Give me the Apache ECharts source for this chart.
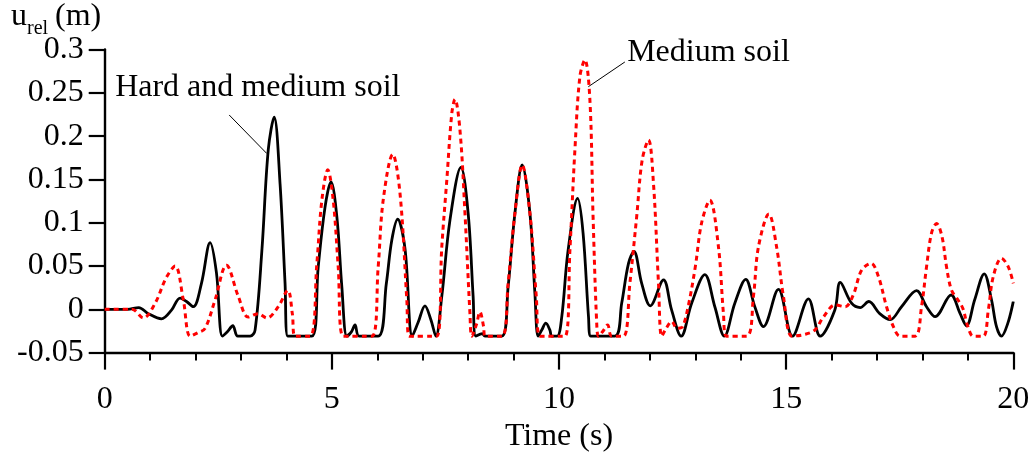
<!DOCTYPE html>
<html><head><meta charset="utf-8">
<script src="https://cdn.jsdelivr.net/npm/echarts@6/dist/echarts.min.js"></script>
<style>html,body{margin:0;padding:0;background:#fff}#c{width:1034px;height:455px}</style>
</head><body><div id="c"></div>
<script>
// Time (s) vs relative displacement u_rel (m)
const hardAndMediumSoil = [
 [0,0],[0.5,0],[0.75,0.002],[0.96,-0.005],[1.25,-0.011],[1.47,-0.001],[1.66,0.013],[1.8,0.009],[1.95,0.003],
 [2.13,0.030],[2.32,0.077],[2.46,0.042],[2.59,-0.031],[2.7,-0.026],[2.82,-0.019],[2.93,-0.031],[3.2,-0.031],
 [3.31,-0.024],[3.46,0.068],[3.6,0.184],[3.73,0.222],[3.86,0.145],[3.97,0.030],[4.03,-0.031],[4.56,-0.031],
 [4.70,0.049],[4.85,0.118],[4.98,0.147],[5.11,0.107],[5.22,0.026],[5.33,-0.031],[5.43,-0.026],[5.51,-0.018],
 [5.6,-0.031],[6.02,-0.031],[6.2,0.030],[6.32,0.080],[6.45,0.104],[6.61,0.070],[6.77,-0.031],[6.9,-0.015],
 [7.05,0.004],[7.18,-0.012],[7.29,-0.031],[7.42,0.015],[7.6,0.103],[7.84,0.164],[8.0,0.111],[8.11,0.015],
 [8.17,-0.031],[8.31,-0.028],[8.37,-0.031],[8.74,-0.031],[8.88,0.026],[9.03,0.111],[9.19,0.1666],[9.36,0.111],
 [9.47,0.018],[9.54,-0.031],[9.62,-0.024],[9.71,-0.016],[9.8,-0.024],[9.84,-0.031],[9.96,-0.031],[10.06,-0.009],
 [10.2,0.068],[10.41,0.128],[10.53,0.088],[10.65,-0.009],[10.70,-0.031],[11.23,-0.031],[11.38,0.007],[11.53,0.053],
 [11.65,0.067],[11.82,0.030],[12.01,0.004],[12.3,0.034],[12.48,-0.001],[12.69,-0.031],[12.92,0.007],[13.21,0.040],
 [13.43,0.003],[13.64,-0.031],[13.87,0.007],[14.11,0.0346],[14.31,0.003],[14.5,-0.020],[14.83,0.023],[15.14,-0.031],
 [15.49,0.012],[15.75,-0.031],[16.07,-0.001],[16.19,0.031],[16.44,0.007],[16.63,0.002],[16.82,0.009],[17.06,-0.005],
 [17.29,-0.012],[17.54,0.003],[17.87,0.0215],[18.09,0.003],[18.28,-0.0085],[18.63,0.0165],[18.83,-0.005],[18.97,-0.019],
 [19.15,0.011],[19.36,0.041],[19.52,0.011],[19.63,-0.020],[19.74,-0.031],[19.88,-0.016],[20.0,0.009]
];
const mediumSoil = [
 [0,0],[0.6,0],[0.85,-0.010],[1.11,0.007],[1.35,0.036],[1.55,0.050],[1.73,0.011],[1.88,-0.031],[2.05,-0.027],
 [2.21,-0.022],[2.43,0.011],[2.68,0.051],[2.94,0.015],[3.16,-0.009],[3.38,-0.005],[3.57,-0.010],[3.82,0.003],
 [4.03,0.022],[4.13,-0.005],[4.19,-0.031],[4.52,-0.031],[4.67,0.053],[4.78,0.126],[4.91,0.161],[5.03,0.126],
 [5.14,0.049],[5.25,-0.031],[5.88,-0.031],[6.02,0.049],[6.13,0.126],[6.34,0.179],[6.5,0.134],[6.65,0.011],
 [6.70,-0.031],[7.31,-0.031],[7.42,0.072],[7.53,0.149],[7.64,0.226],[7.71,0.2425],[7.82,0.207],[7.93,0.111],
 [8.04,-0.005],[8.08,-0.031],[8.18,-0.018],[8.26,-0.003],[8.34,-0.020],[8.37,-0.031],[8.74,-0.031],[8.88,0.030],
 [9.03,0.111],[9.19,0.1666],[9.36,0.111],[9.5,0.015],[9.58,-0.031],[10.13,-0.031],[10.24,0.068],[10.35,0.184],
 [10.46,0.269],[10.57,0.288],[10.68,0.242],[10.75,0.107],[10.83,-0.016],[10.87,-0.031],[10.97,-0.025],[11.07,-0.018],
 [11.16,-0.031],[11.42,-0.031],[11.56,0.030],[11.71,0.107],[11.83,0.172],[11.97,0.1955],[12.08,0.145],[12.19,0.030],
 [12.26,-0.031],[12.36,-0.022],[12.48,-0.014],[12.6,-0.022],[12.72,-0.020],[12.85,0.005],[13.0,0.049],[13.14,0.100],
 [13.32,0.126],[13.51,0.072],[13.62,-0.005],[13.69,-0.031],[14.13,-0.031],[14.28,0.015],[14.39,0.072],[14.62,0.110],
 [14.79,0.072],[14.94,0.015],[15.13,-0.031],[15.41,-0.029],[15.63,-0.024],[15.82,-0.009],[16.08,0.005],[16.3,0.003],
 [16.48,0.017],[16.66,0.045],[16.87,0.053],[17.03,0.038],[17.21,0.003],[17.36,-0.020],[17.51,-0.031],[17.84,-0.031],
 [17.98,0.003],[18.09,0.049],[18.2,0.088],[18.31,0.099],[18.43,0.084],[18.53,0.049],[18.64,0.022],[18.78,0.011],
 [18.89,0.001],[19.0,-0.020],[19.12,-0.031],[19.34,-0.031],[19.45,-0.001],[19.56,0.038],[19.74,0.059],[19.89,0.049],
 [20.0,0.030]
];
const seriesNames = ['Hard and medium soil', 'Medium soil'];
const xRange = [0, 20, 5];          // min, max, major interval
const yRange = [-0.05, 0.3, 0.05];  // min, max, interval
// annotation anchors in data space: [label anchor], [leader start], [leader end]
const hardNote = {text: 'Hard and medium soil', label: [0.23, 0.2565], from: [2.74, 0.2244], to: [3.566, 0.180]};
const medNote  = {text: 'Medium soil', label: [11.5, 0.297], from: [11.45, 0.2856], to: [10.645, 0.257]};

const FONT = '"Liberation Serif", "Times New Roman", serif';
const chart = echarts.init(document.getElementById('c'), null, {renderer: 'canvas'});
const option = {
  animation: false,
  backgroundColor: '#fff',
  grid: {left: 104.7, right: 20.7, top: 49.5, bottom: 102.4, containLabel: false, outerBoundsMode: 'none'},
  xAxis: {
    type: 'value', min: xRange[0], max: xRange[1], interval: xRange[2],
    name: 'Time (s)', nameLocation: 'middle', nameGap: 64,
    nameTextStyle: {fontFamily: FONT, fontSize: 32, color: '#000'},
    axisLine: {show: true, onZero: false, lineStyle: {color: '#000', width: 2.4}},
    axisTick: {show: true, length: 17, lineStyle: {color: '#000', width: 2.2}},
    minorTick: {show: true, splitNumber: 5, length: 8, lineStyle: {color: '#000', width: 2}},
    axisLabel: {fontFamily: FONT, fontSize: 32, color: '#000', margin: 31},
    splitLine: {show: false}, minorSplitLine: {show: false}
  },
  yAxis: {
    type: 'value', min: yRange[0], max: yRange[1], interval: yRange[2],
    axisLine: {show: true, onZero: false, lineStyle: {color: '#000', width: 2.4}},
    axisTick: {show: true, length: 16, lineStyle: {color: '#000', width: 2.2}},
    axisLabel: {fontFamily: FONT, fontSize: 32, color: '#000', margin: 21,
      formatter: v => String(Math.round(v * 100) / 100)},
    splitLine: {show: false}
  },
  series: [
    {name: seriesNames[0], type: 'line', data: hardAndMediumSoil, showSymbol: false, smooth: 0.35,
     lineStyle: {color: '#000', width: 2.8}, z: 2},
    {name: seriesNames[1], type: 'line', data: mediumSoil, showSymbol: false, smooth: 0.35,
     lineStyle: {color: '#ff0000', width: 3, type: [5, 4]}, z: 3}
  ]
};
chart.setOption(option);

function px(p) { return chart.convertToPixel({gridIndex: 0}, p); }
function note(n) {
  const a = px(n.from), b = px(n.to), l = px(n.label);
  return [
    {type: 'line', shape: {x1: a[0], y1: a[1], x2: b[0], y2: b[1]}, style: {stroke: '#000', lineWidth: 1}, z: 10},
    {type: 'text', x: l[0], y: l[1], style: {text: n.text, font: '32px ' + FONT, fill: '#000',
      textAlign: 'left', textVerticalAlign: 'middle'}, z: 10}
  ];
}
chart.setOption({graphic: [
  ...note(hardNote), ...note(medNote),
  {type: 'text', x: 11, y: 33, style: {text: 'u', font: '32px ' + FONT, fill: '#000', textVerticalAlign: 'bottom'}},
  {type: 'text', x: 27, y: 39, style: {text: 'rel', font: '20px ' + FONT, fill: '#000', textVerticalAlign: 'bottom'}},
  {type: 'text', x: 55, y: 33, style: {text: '(m)', font: '32px ' + FONT, fill: '#000', textVerticalAlign: 'bottom'}}
]});
</script></body></html>
